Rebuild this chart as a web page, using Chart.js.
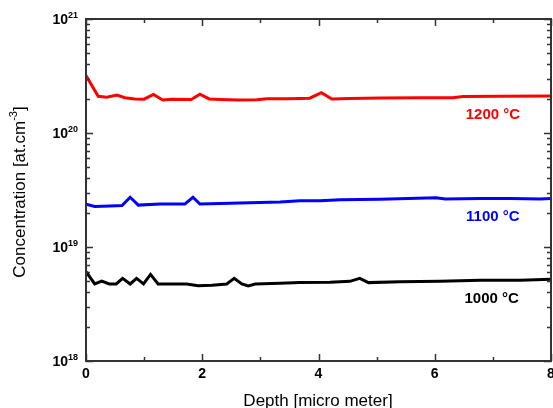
<!DOCTYPE html>
<html>
<head>
<meta charset="utf-8">
<script src="https://cdn.jsdelivr.net/npm/chart.js@4.4.1/dist/chart.umd.min.js"></script>
<style>
html, body { margin: 0; padding: 0; background: #fff; }
</style>
</head>
<body>
<canvas id="chart" width="553" height="408"></canvas>
<script>
// depth in micro meter, concentration in at.cm-3
var depth1200 = [0.0, 0.21, 0.36, 0.53, 0.67, 0.84, 1.0, 1.16, 1.32, 1.47, 1.81, 1.96, 2.12, 2.31, 2.62, 2.94, 3.11, 3.5, 3.85, 4.05, 4.23, 4.54, 5.06, 5.75, 6.31, 6.49, 7.12, 8.0];
var conc1200 = [3.2e20, 2.1e20, 2.06e20, 2.15e20, 2.04e20, 1.99e20, 1.98e20, 2.18e20, 1.95e20, 1.98e20, 1.97e20, 2.19e20, 1.99e20, 1.97e20, 1.95e20, 1.96e20, 2.0e20, 2.0e20, 2.02e20, 2.26e20, 1.99e20, 2.01e20, 2.03e20, 2.04e20, 2.04e20, 2.09e20, 2.1e20, 2.11e20];

var depth1100 = [0.0, 0.15, 0.41, 0.62, 0.76, 0.9, 1.27, 1.7, 1.84, 1.96, 2.31, 2.82, 3.34, 3.68, 4.03, 4.37, 5.06, 6.02, 6.18, 6.78, 7.3, 7.81, 8.0];
var conc1100 = [2.37e19, 2.27e19, 2.29e19, 2.31e19, 2.73e19, 2.33e19, 2.38e19, 2.38e19, 2.73e19, 2.38e19, 2.41e19, 2.45e19, 2.48e19, 2.54e19, 2.55e19, 2.6e19, 2.62e19, 2.7e19, 2.64e19, 2.66e19, 2.67e19, 2.64e19, 2.67e19];

var depth1000 = [0.0, 0.15, 0.27, 0.40, 0.52, 0.63, 0.76, 0.87, 0.99, 1.11, 1.24, 1.73, 1.93, 2.17, 2.42, 2.55, 2.68, 2.79, 2.91, 3.34, 3.68, 4.2, 4.54, 4.71, 4.86, 5.4, 6.09, 6.78, 7.47, 8.0];
var conc1000 = [6.07e18, 4.74e18, 5.03e18, 4.74e18, 4.74e18, 5.31e18, 4.74e18, 5.31e18, 4.74e18, 5.75e18, 4.74e18, 4.74e18, 4.58e18, 4.62e18, 4.74e18, 5.31e18, 4.74e18, 4.55e18, 4.74e18, 4.8e18, 4.87e18, 4.9e18, 5.0e18, 5.31e18, 4.87e18, 4.95e18, 5.0e18, 5.1e18, 5.1e18, 5.21e18];

var xMajorTicks = [0, 2, 4, 6, 8];
var xMinorTicks = [1, 3, 5, 7];
var yMajorTicks = [1e18, 1e19, 1e20, 1e21];
var yExponents = ['18', '19', '20', '21'];

var seriesLabels = ['1200 \u00B0C', '1100 \u00B0C', '1000 \u00B0C'];
var seriesColors = ['#ff0000', '#0000ff', '#000000'];
var labelDepth = [7.0, 7.0, 6.98];
var labelConc = [1.44e20, 1.83e19, 3.5e18];

function points(xs, ys) {
    var out = [];
    for (var i = 0; i < xs.length; i++) {
        out.push({ x: xs[i], y: ys[i] });
    }
    return out;
}

var frameAndLabels = {
    id: 'frameAndLabels',
    afterDatasetsDraw: function (chart) {
        var ctx = chart.ctx;
        var area = chart.chartArea;
        var xs = chart.scales.x;
        var ys = chart.scales.y;
        ctx.save();

        // box
        ctx.strokeStyle = '#333';
        ctx.lineWidth = 2;
        ctx.strokeRect(area.left, area.top, area.right - area.left, area.bottom - area.top);

        // ticks, drawn inside on all four sides
        ctx.lineWidth = 1.5;
        ctx.beginPath();
        function xTick(v, len) {
            var px = Math.round(xs.getPixelForValue(v)) + 0.5;
            ctx.moveTo(px, area.bottom);
            ctx.lineTo(px, area.bottom - len);
            ctx.moveTo(px, area.top);
            ctx.lineTo(px, area.top + len);
        }
        function yTick(v, len) {
            var py = Math.round(ys.getPixelForValue(v)) + 0.5;
            ctx.moveTo(area.left, py);
            ctx.lineTo(area.left + len, py);
            ctx.moveTo(area.right, py);
            ctx.lineTo(area.right - len, py);
        }
        xMajorTicks.forEach(function (v) { xTick(v, 7); });
        xMinorTicks.forEach(function (v) { xTick(v, 4); });
        for (var d = 0; d < yMajorTicks.length; d++) {
            yTick(yMajorTicks[d], 7);
            if (d < yMajorTicks.length - 1) {
                for (var m = 2; m <= 9; m++) {
                    yTick(yMajorTicks[d] * m, 4);
                }
            }
        }
        ctx.stroke();

        // x tick labels
        ctx.fillStyle = '#000';
        ctx.font = 'bold 14px "Liberation Sans", Arial, sans-serif';
        ctx.textAlign = 'center';
        ctx.textBaseline = 'alphabetic';
        xMajorTicks.forEach(function (v) {
            ctx.fillText(String(v), xs.getPixelForValue(v), 378);
        });

        // y tick labels 10^n
        for (var k = 0; k < yMajorTicks.length; k++) {
            var py = ys.getPixelForValue(yMajorTicks[k]);
            ctx.font = 'bold 14px "Liberation Sans", Arial, sans-serif';
            ctx.textAlign = 'right';
            ctx.fillText('10', 68, py + 5);
            ctx.font = 'bold 9px "Liberation Sans", Arial, sans-serif';
            ctx.textAlign = 'left';
            ctx.fillText(yExponents[k], 68, py - 1);
        }

        // axis titles
        ctx.font = '17px "Liberation Sans", Arial, sans-serif';
        ctx.textAlign = 'center';
        ctx.fillText('Depth [micro meter]', 318, 406);

        ctx.save();
        ctx.translate(25, 192);
        ctx.rotate(-Math.PI / 2);
        var mainFont = '17px "Liberation Sans", Arial, sans-serif';
        var supFont = '11px "Liberation Sans", Arial, sans-serif';
        var part1 = 'Concentration [at.cm';
        var part2 = '-3';
        var part3 = ']';
        ctx.font = mainFont;
        var w1 = ctx.measureText(part1).width;
        var w3 = ctx.measureText(part3).width;
        ctx.font = supFont;
        var w2 = ctx.measureText(part2).width;
        var start = -(w1 + w2 + w3) / 2;
        ctx.textAlign = 'left';
        ctx.font = mainFont;
        ctx.fillText(part1, start, 0);
        ctx.font = supFont;
        ctx.fillText(part2, start + w1, -8);
        ctx.font = mainFont;
        ctx.fillText(part3, start + w1 + w2, 0);
        ctx.restore();

        // series labels
        ctx.font = 'bold 15px "Liberation Sans", Arial, sans-serif';
        ctx.textAlign = 'center';
        ctx.textBaseline = 'middle';
        for (var s = 0; s < seriesLabels.length; s++) {
            ctx.fillStyle = seriesColors[s];
            ctx.fillText(seriesLabels[s], xs.getPixelForValue(labelDepth[s]), ys.getPixelForValue(labelConc[s]));
        }
        ctx.restore();
    }
};

var chart = new Chart(document.getElementById('chart'), {
    type: 'line',
    data: {
        datasets: [
            { label: seriesLabels[0], data: points(depth1200, conc1200), borderColor: seriesColors[0] },
            { label: seriesLabels[1], data: points(depth1100, conc1100), borderColor: seriesColors[1] },
            { label: seriesLabels[2], data: points(depth1000, conc1000), borderColor: seriesColors[2] }
        ]
    },
    options: {
        responsive: false,
        animation: false,
        devicePixelRatio: 1,
        layout: { padding: { left: 86, right: 2, top: 19, bottom: 47 } },
        elements: {
            line: { borderWidth: 3, tension: 0, fill: false },
            point: { radius: 0 }
        },
        plugins: {
            legend: { display: false },
            tooltip: { enabled: false }
        },
        scales: {
            x: { type: 'linear', min: 0, max: 8, display: false },
            y: { type: 'logarithmic', min: 1e18, max: 1e21, display: false }
        }
    },
    plugins: [frameAndLabels]
});
</script>
</body>
</html>
